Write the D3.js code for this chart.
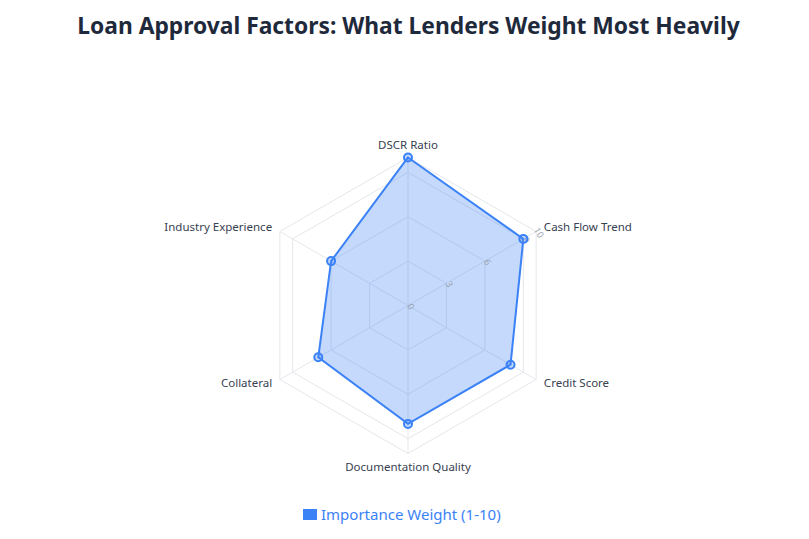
<!DOCTYPE html>
<html>
<head>
<meta charset="utf-8">
<script src="https://cdn.jsdelivr.net/npm/d3@7"></script>
<style>
  body { margin: 0; background: #fff; }
  text { font-family: "Noto Sans", "Open Sans", sans-serif; }
</style>
</head>
<body>
<div id="canvas"></div>
<script>
const factors = ["DSCR Ratio", "Cash Flow Trend", "Credit Score", "Documentation Quality", "Collateral", "Industry Experience"];
const weights = [10, 9, 8, 8, 7, 6];
const ticks = [0, 3, 6, 9, 10];
const seriesName = "Importance Weight (1-10)";

const width = 809;
const height = 539;
const cx = 408;
const cy = 305.5;
const radius = 148;
const blue = "#3b82f6";

const svg = d3.select("#canvas").append("svg")
  .attr("width", width)
  .attr("height", height);

svg.append("text")
  .attr("x", width / 2 + 4)
  .attr("y", 34)
  .attr("text-anchor", "middle")
  .style("font-size", "22.8px")
  .style("font-weight", "bold")
  .attr("fill", "#1e293b")
  .text("Loan Approval Factors: What Lenders Weight Most Heavily");

const g = svg.append("g").attr("transform", `translate(${cx}, ${cy})`);

const r = d3.scaleLinear().domain([0, 10]).range([0, radius]);
const angle = d3.scaleLinear().domain([0, factors.length]).range([0, 2 * Math.PI]);

const pt = (i, v) => [r(v) * Math.sin(angle(i)), -r(v) * Math.cos(angle(i))];

// grid rings
g.selectAll(".ring")
  .data(ticks.filter((t) => t > 0))
  .enter()
  .append("polygon")
  .attr("class", "ring")
  .attr("points", (t) => factors.map((f, i) => pt(i, t).join(",")).join(" "))
  .attr("fill", "none")
  .attr("stroke", "#e5e7eb")
  .attr("stroke-width", 1);

// spokes
g.selectAll(".spoke")
  .data(factors)
  .enter()
  .append("line")
  .attr("class", "spoke")
  .attr("x1", 0)
  .attr("y1", 0)
  .attr("x2", (d, i) => pt(i, 10)[0])
  .attr("y2", (d, i) => pt(i, 10)[1])
  .attr("stroke", "#e5e7eb")
  .attr("stroke-width", 1);

// data area
const line = d3.line().curve(d3.curveLinearClosed);
g.append("path")
  .attr("d", line(weights.map((v, i) => pt(i, v))))
  .attr("fill", "rgba(59,130,246,0.3)")
  .attr("stroke", blue)
  .attr("stroke-width", 2);

// tick labels along Cash Flow axis
g.selectAll(".tick-label")
  .data(ticks)
  .enter()
  .append("text")
  .attr("class", "tick-label")
  .attr("transform", (t) => {
    const p = pt(1, t);
    return `translate(${p[0] + 3}, ${p[1] + 1}) rotate(60)`;
  })
  .attr("text-anchor", "middle")
  .attr("dominant-baseline", "central")
  .style("font-size", "9px")
  .attr("fill", "#9ca3af")
  .text((t) => t);

// points
g.selectAll(".point")
  .data(weights)
  .enter()
  .append("circle")
  .attr("class", "point")
  .attr("cx", (d, i) => pt(i, d)[0])
  .attr("cy", (d, i) => pt(i, d)[1])
  .attr("r", 4)
  .attr("fill", "rgba(59,130,246,0.3)")
  .attr("stroke", blue)
  .attr("stroke-width", 2);

// axis labels
g.selectAll(".axis-label")
  .data(factors)
  .enter()
  .append("text")
  .attr("class", "axis-label")
  .attr("x", (d, i) => pt(i, 10.6)[0])
  .attr("y", (d, i) => {
    const p = pt(i, 10.6);
    if (i === 0) return p[1] - 4;
    if (i === 3) return p[1] + 4;
    return p[1] - 1;
  })
  .attr("text-anchor", (d, i) => (i === 0 || i === 3 ? "middle" : i < 3 ? "start" : "end"))
  .attr("dominant-baseline", "central")
  .style("font-size", "11.5px")
  .attr("fill", "#374151")
  .text((d) => d);

// legend
const legend = svg.append("g").attr("transform", "translate(303, 509)");
legend.append("rect")
  .attr("width", 14)
  .attr("height", 11)
  .attr("fill", blue);
legend.append("text")
  .attr("x", 18)
  .attr("y", 4.5)
  .attr("dominant-baseline", "central")
  .style("font-size", "15px")
  .attr("fill", blue)
  .text(seriesName);
</script>
</body>
</html>
